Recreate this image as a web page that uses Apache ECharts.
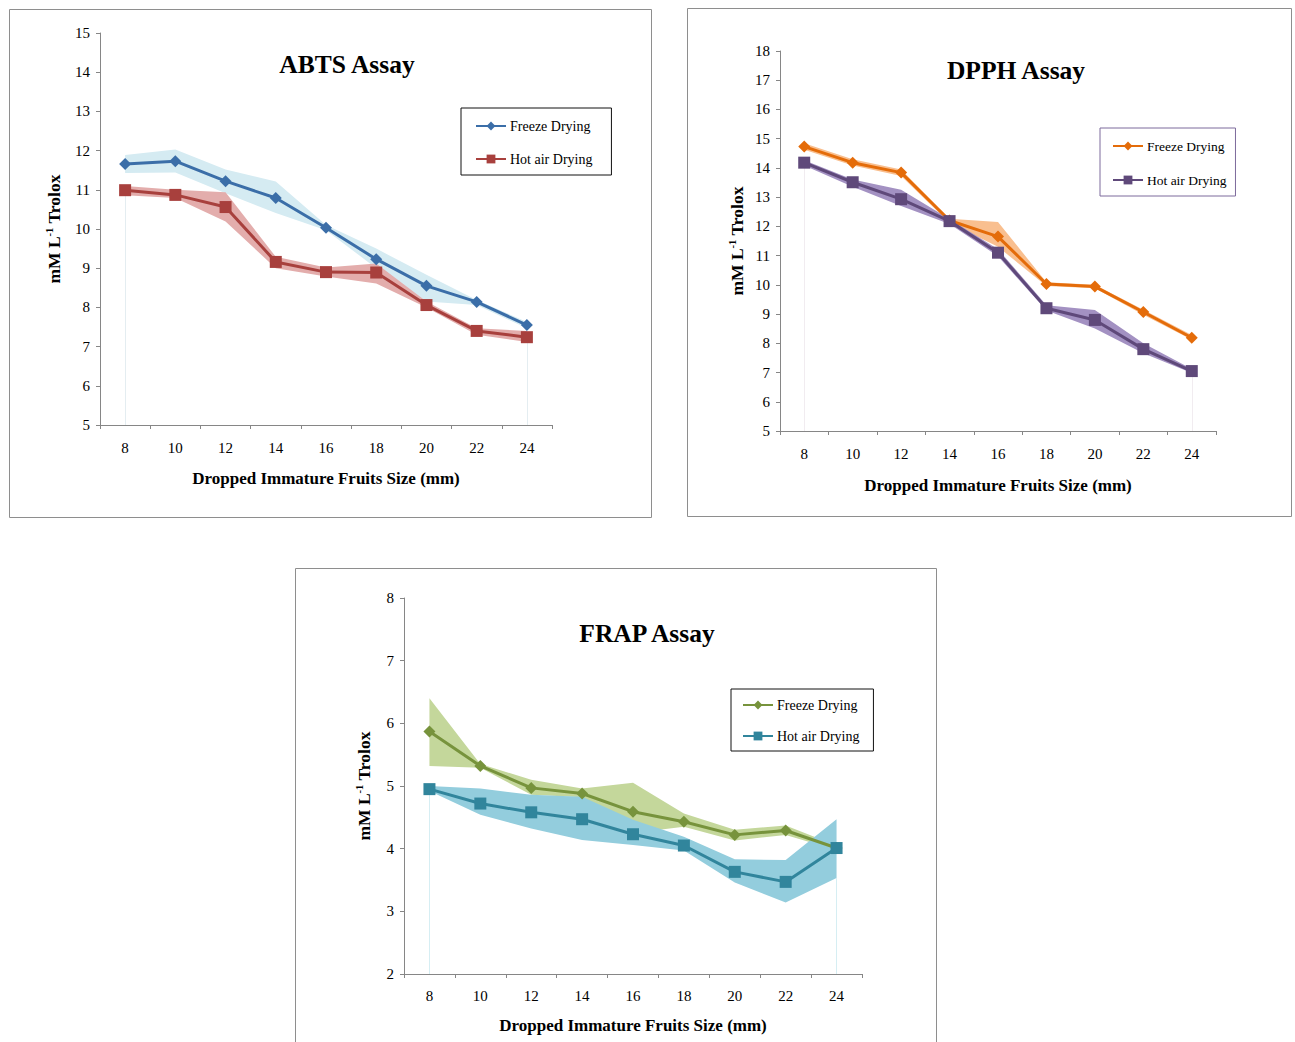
<!DOCTYPE html>
<html>
<head>
<meta charset="utf-8">
<script src="https://cdn.jsdelivr.net/npm/echarts@6/dist/echarts.min.js"></script>
<style>
html,body{margin:0;padding:0;background:#fff;}
#chart{position:absolute;left:0;top:0;width:1295px;height:1042px;}
</style>
</head>
<body>
<div id="chart"></div>
<script>
// ---------- data ----------
const sizes = ['8','10','12','14','16','18','20','22','24'];

// ABTS
const abtsFreeze     = [11.66, 11.73, 11.22, 10.79, 10.03, 9.23, 8.55, 8.14, 7.55];
const abtsFreezeLow  = [11.43, 11.44, 10.91, 10.41, 9.97, 9.00, 8.15, 8.06, 7.47];
const abtsFreezeHigh = [11.89, 12.03, 11.52, 11.21, 10.10, 9.50, 8.83, 8.19, 7.63];
const abtsHot        = [10.99, 10.87, 10.56, 9.16, 8.90, 8.89, 8.06, 7.40, 7.24];
const abtsHotLow     = [10.86, 10.79, 10.19, 9.00, 8.79, 8.61, 8.00, 7.30, 7.12];
const abtsHotHigh    = [11.10, 11.00, 10.94, 9.29, 9.02, 9.12, 8.15, 7.47, 7.40];

// DPPH
const dpphFreeze     = [14.73, 14.18, 13.84, 12.20, 11.65, 10.03, 9.94, 9.07, 8.19];
const dpphFreezeLow  = [14.62, 14.08, 13.72, 12.12, 11.30, 9.96, 9.88, 8.98, 8.12];
const dpphFreezeHigh = [14.84, 14.30, 13.95, 12.26, 12.15, 10.09, 10.00, 9.15, 8.28];
const dpphHot        = [14.18, 13.51, 12.93, 12.18, 11.10, 9.20, 8.80, 7.80, 7.05];
const dpphHotLow     = [14.08, 13.36, 12.70, 12.08, 10.98, 9.12, 8.51, 7.66, 6.98];
const dpphHotHigh    = [14.26, 13.60, 13.25, 12.25, 11.22, 9.30, 9.14, 8.00, 7.12];

// FRAP
const frapFreeze     = [5.87, 5.32, 4.97, 4.88, 4.59, 4.43, 4.22, 4.29, 4.01];
const frapFreezeLow  = [5.32, 5.29, 4.86, 4.82, 4.25, 4.35, 4.13, 4.22, 3.98];
const frapFreezeHigh = [6.40, 5.35, 5.10, 4.96, 5.05, 4.56, 4.30, 4.37, 4.05];
const frapHot        = [4.95, 4.72, 4.58, 4.47, 4.23, 4.05, 3.63, 3.47, 4.01];
const frapHotLow     = [4.92, 4.54, 4.32, 4.14, 4.06, 3.97, 3.46, 3.14, 3.53];
const frapHotHigh    = [5.00, 4.96, 4.86, 4.83, 4.46, 4.19, 3.83, 3.82, 4.47];

const titles = ['ABTS Assay', 'DPPH Assay', 'FRAP Assay'];
const seriesNames = ['Freeze Drying', 'Hot air Drying'];
const xName = 'Dropped Immature Fruits Size (mm)';
const yTicksMin = [5, 5, 2];
const yTicksMax = [15, 18, 8];

// ---------- styling / layout ----------
const SERIF = '"Liberation Serif", "Times New Roman", serif';
const panels = [
  { key:'ABTS', grid:{left:100, top:33, width:452, height:392},
    freeze:abtsFreeze, fLow:abtsFreezeLow, fHigh:abtsFreezeHigh,
    hot:abtsHot, hLow:abtsHotLow, hHigh:abtsHotHigh,
    fColor:'#3b6ea8', hColor:'#a8403d', fBand:'#d5ebf2', hBand:'#e3adac', drop:'#e4edf1',
    yGap:36, xGap:45, labelMargin:15, legendFont:14,
    title:{x:347, y:64},
    legend:{left:461, top:108, border:'#111', padding:[11,19,9,14], gap:19},
    border:{x:9.5, y:9.5, w:642, h:508} },
  { key:'DPPH', grid:{left:780, top:51, width:436, height:380},
    freeze:dpphFreeze, fLow:dpphFreezeLow, fHigh:dpphFreezeHigh,
    hot:dpphHot, hLow:dpphHotLow, hHigh:dpphHotHigh,
    fColor:'#e46c0a', hColor:'#5f497a', fBand:'#f9bf8f', hBand:'#a391c2', drop:'#f1ecf0',
    yGap:33, xGap:46, labelMargin:15, legendFont:13.5,
    title:{x:1016, y:70},
    legend:{left:1100, top:128, border:'#7d6a9c', padding:[11,9,9,12], gap:20},
    border:{x:687.5, y:8.5, w:604, h:508} },
  { key:'FRAP', grid:{left:404, top:598, width:458, height:376},
    freeze:frapFreeze, fLow:frapFreezeLow, fHigh:frapFreezeHigh,
    hot:frapHot, hLow:frapHotLow, hHigh:frapHotHigh,
    fColor:'#77933c', hColor:'#31859c', fBand:'#c4d79b', hBand:'#93cddd', drop:'#d6eef3',
    yGap:30, xGap:43, labelMargin:14, legendFont:14,
    title:{x:647, y:633},
    legend:{left:731, top:689, border:'#111', padding:[9,14,8,11], gap:17},
    border:{x:295.5, y:568.5, w:641, h:490} }
];

const grids = [], xAxes = [], yAxes = [], series = [], legends = [], graphics = [];

panels.forEach((p, i) => {
  grids.push(Object.assign({containLabel:false}, p.grid));
  xAxes.push({
    type:'category', gridIndex:i, data:sizes, boundaryGap:true,
    axisLine:{lineStyle:{color:'#868686', width:1}},
    axisTick:{show:true, length:4, lineStyle:{color:'#868686'}},
    axisLabel:{margin:p.labelMargin, fontFamily:SERIF, fontSize:15, color:'#000'},
    name:xName, nameLocation:'middle', nameGap:p.xGap,
    nameTextStyle:{fontFamily:SERIF, fontWeight:'bold', fontSize:17, color:'#000'}
  });
  yAxes.push({
    type:'value', gridIndex:i, min:yTicksMin[i], max:yTicksMax[i], interval:1,
    splitLine:{show:false},
    axisLine:{show:true, lineStyle:{color:'#868686', width:1}},
    axisTick:{show:true, length:4, lineStyle:{color:'#868686'}},
    axisLabel:{margin:10, fontFamily:SERIF, fontSize:15, color:'#000'},
    name:'{b|mM L}{s|-1}{b| Trolox}', nameLocation:'middle', nameGap:p.yGap, nameRotate:90,
    nameTextStyle:{
      rich:{
        b:{fontFamily:SERIF, fontWeight:'bold', fontSize:17.5, color:'#000', lineHeight:20},
        s:{fontFamily:SERIF, fontWeight:'bold', fontSize:10.5, color:'#000', lineHeight:11, verticalAlign:'top'}
      }
    }
  });

  const bandPair = (low, high, color, stackName, withDrop) => {
    const lowerSeries = {
      type:'line', xAxisIndex:i, yAxisIndex:i, data:low, stack:stackName,
      symbol:'none', lineStyle:{opacity:0}, silent:true, z:1
    };
    if (withDrop) {
      const last = sizes.length - 1;
      lowerSeries.markLine = {
        symbol:'none', silent:true, label:{show:false},
        lineStyle:{color:p.drop, width:1, type:'solid'},
        data:[
          [{coord:[sizes[0], low[0]]}, {coord:[sizes[0], yTicksMin[i]]}],
          [{coord:[sizes[last], low[last]]}, {coord:[sizes[last], yTicksMin[i]]}]
        ]
      };
    }
    series.push(lowerSeries);
    series.push({
      type:'line', xAxisIndex:i, yAxisIndex:i,
      data:high.map((v, k) => +(v - low[k]).toFixed(4)), stack:stackName,
      symbol:'none', lineStyle:{opacity:0}, silent:true, z:1,
      areaStyle:{color:color, opacity:1}
    });
  };
  bandPair(p.fLow, p.fHigh, p.fBand, p.key + 'F', false);
  bandPair(p.hLow, p.hHigh, p.hBand, p.key + 'H', true);

  series.push({
    type:'line', name:p.key + ' ' + seriesNames[0], xAxisIndex:i, yAxisIndex:i,
    data:p.freeze, symbol:'diamond', symbolSize:12, z:5,
    lineStyle:{width:3, color:p.fColor}, itemStyle:{color:p.fColor}
  });
  series.push({
    type:'line', name:p.key + ' ' + seriesNames[1], xAxisIndex:i, yAxisIndex:i,
    data:p.hot, symbol:'rect', symbolSize:12, z:6,
    lineStyle:{width:3, color:p.hColor}, itemStyle:{color:p.hColor}
  });

  legends.push({
    data:[p.key + ' ' + seriesNames[0], p.key + ' ' + seriesNames[1]],
    formatter:(name) => name.replace(/^\S+\s/, ''),
    orient:'vertical', left:p.legend.left, top:p.legend.top,
    borderColor:p.legend.border, borderWidth:1, padding:p.legend.padding,
    itemGap:p.legend.gap, itemWidth:30, itemHeight:11,
    lineStyle:{width:2}, selectedMode:false,
    textStyle:{fontFamily:SERIF, fontSize:p.legendFont, color:'#000', padding:[0,0,0,-1]}
  });

  graphics.push({
    type:'rect', silent:true, z:-10,
    shape:{x:p.border.x, y:p.border.y, width:p.border.w, height:p.border.h},
    style:{fill:'none', stroke:'#8e8e8e', lineWidth:1}
  });
  graphics.push({
    type:'text', silent:true, x:p.title.x, y:p.title.y,
    style:{text:titles[i], font:'bold 25.5px ' + SERIF, fill:'#000',
           align:'center', verticalAlign:'middle', textAlign:'center', textVerticalAlign:'middle'}
  });
});

const chart = echarts.init(document.getElementById('chart'), null, {renderer:'svg'});
chart.setOption({
  animation:false,
  backgroundColor:'#fff',
  grid:grids, xAxis:xAxes, yAxis:yAxes, series:series, legend:legends,
  graphic:graphics
});
</script>
</body>
</html>
